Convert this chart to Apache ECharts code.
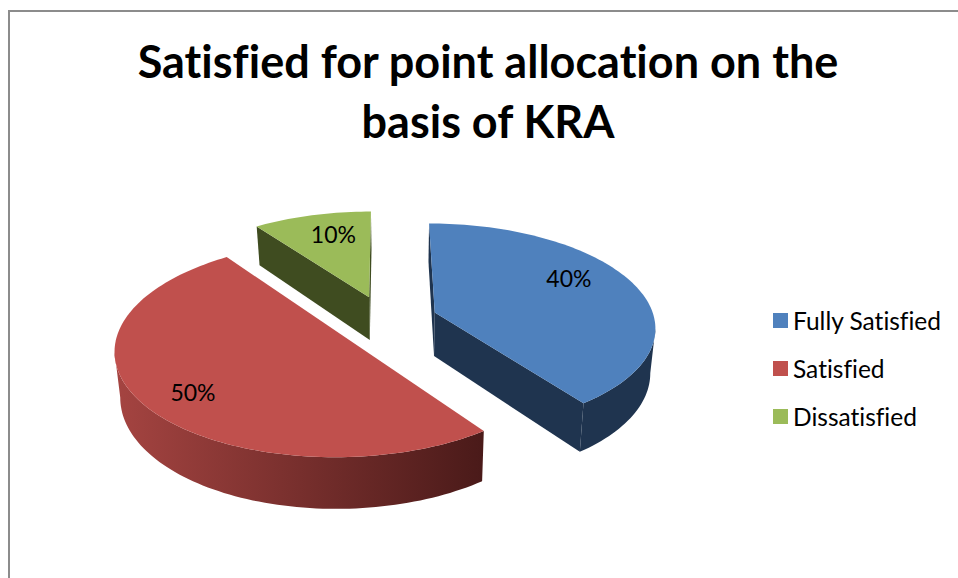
<!DOCTYPE html>
<html>
<head>
<meta charset="utf-8">
<title>Satisfied for point allocation</title>
<script src="https://cdn.jsdelivr.net/npm/echarts@6/dist/echarts.min.js"></script>
<style>
  html, body { margin: 0; padding: 0; background: #fff; }
  #main { width: 958px; height: 578px; font-variant-ligatures: none; }
</style>
</head>
<body>
<div id="main"></div>
<script>
var categories = ['Fully Satisfied', 'Satisfied', 'Dissatisfied'];
var percents = [40, 50, 10];

var FONT = 'Lato, "Noto Sans", sans-serif';
var topColors = ['#4f81bd', '#c0504d', '#9bbb59'];
var wallColors = ['#1f344f', '#4c1c1b', '#3f4c20'];
var bandColors = [
    ['#1f344f', '#1f344f'],
    ['#a54441', '#4a1a19'],
    ['#3f4c20', '#3f4c20']
];
// where each % label sits: shift from the slice's mid angle, and radius
var labelShift = [-10, -4, 3];
var labelRadius = [0.74, 0.79, 0.73];

// pie projection, tilted with a bit of perspective like the excel 3d pie
var cx = 385, cy = 320, R = 220, Rb = 102.4, persp = 0.13;
var explode = 0.24, depth = 44;

function project(X, Y) {
    var w = 1 / (1 - persp * Y);
    return { x: cx + R * X * w, y: cy + Rb * Y * w, w: w };
}
function lower(p) {
    return [400 + (p.x - 400) * 0.98, p.y + depth * p.w];
}
function polar(deg) {
    var a = deg * Math.PI / 180;
    return [Math.sin(a), -Math.cos(a)];
}

function renderSlice(params, api) {
    var idx = params.seriesIndex;
    var before = 0;
    for (var i = 0; i < idx; i++) before += percents[i];
    var start = before * 3.6;
    var end = start + api.value(0) * 3.6;
    var mid = polar((start + end) / 2);
    var ox = mid[0] * explode, oy = mid[1] * explode;

    var apex = project(ox, oy);
    var arc = [];
    for (var d = start; d <= end + 0.001; d += 1.5) {
        var u = polar(d);
        arc.push(project(ox + u[0], oy + u[1]));
    }

    var children = [];

    // flat walls of the wedge, only if they face the viewer
    [[arc[arc.length - 1], apex], [apex, arc[0]]].forEach(function (edge) {
        if (edge[1].x < edge[0].x) {
            children.push({
                type: 'polygon',
                shape: { points: [[edge[0].x, edge[0].y], [edge[1].x, edge[1].y], lower(edge[1]), lower(edge[0])] },
                style: { fill: wallColors[idx] }
            });
        }
    });

    // rim of the slice
    var rimTop = [], rimBottom = [];
    for (var j = 0; j < arc.length; j++) {
        var facing = (j < arc.length - 1 && arc[j + 1].x < arc[j].x) || (j > 0 && arc[j].x < arc[j - 1].x);
        if (facing) {
            rimTop.push([arc[j].x, arc[j].y]);
            rimBottom.unshift(lower(arc[j]));
        }
    }
    if (rimTop.length) {
        // polygon bbox based gradient, dark end on the right
        children.push({
            type: 'polygon',
            shape: { points: rimTop.concat(rimBottom) },
            style: {
                fill: new echarts.graphic.LinearGradient(0, 0, 1, 0, [
                    { offset: 0, color: bandColors[idx][0] },
                    { offset: 1, color: bandColors[idx][1] }
                ])
            }
        });
    }

    // top face
    var face = [[apex.x, apex.y]].concat(arc.map(function (p) { return [p.x, p.y]; }));
    children.push({ type: 'polygon', shape: { points: face }, style: { fill: topColors[idx] } });

    // % label
    var lu = polar((start + end) / 2 + labelShift[idx]);
    var lp = project(ox + lu[0] * labelRadius[idx], oy + lu[1] * labelRadius[idx]);
    children.push({
        type: 'text',
        style: {
            x: lp.x, y: lp.y - 1,
            text: api.value(0) + '%',
            fill: '#000',
            font: '23px ' + FONT,
            align: 'center',
            verticalAlign: 'middle'
        }
    });

    return { type: 'group', children: children };
}

// svg renderer so the css above can switch off Lato's fi/ti ligatures
var myChart = echarts.init(document.getElementById('main'), null, { renderer: 'svg' });

myChart.setOption({
    animation: false,
    backgroundColor: '#fff',
    color: topColors,
    title: {
        text: 'Satisfied for point allocation on the\nbasis of KRA',
        left: 483,
        top: 26,
        textAlign: 'center',
        textStyle: {
            fontFamily: FONT,
            fontSize: 45,
            fontWeight: 'bold',
            color: '#000',
            lineHeight: 60
        }
    },
    legend: {
        data: categories,
        orient: 'vertical',
        left: 768,
        top: 303,
        icon: 'rect',
        itemWidth: 15,
        itemHeight: 15,
        itemGap: 23,
        textStyle: { fontFamily: FONT, fontSize: 24.5, color: '#000' }
    },
    graphic: [{
        type: 'polyline',
        shape: { points: [[9, 578], [9, 11], [958, 11]] },
        style: { stroke: '#8c8c8c', lineWidth: 2, fill: null }
    }],
    series: categories.map(function (name, i) {
        return {
            name: name,
            type: 'custom',
            coordinateSystem: 'none',
            renderItem: renderSlice,
            data: [[percents[i]]]
        };
    })
});
</script>
</body>
</html>
